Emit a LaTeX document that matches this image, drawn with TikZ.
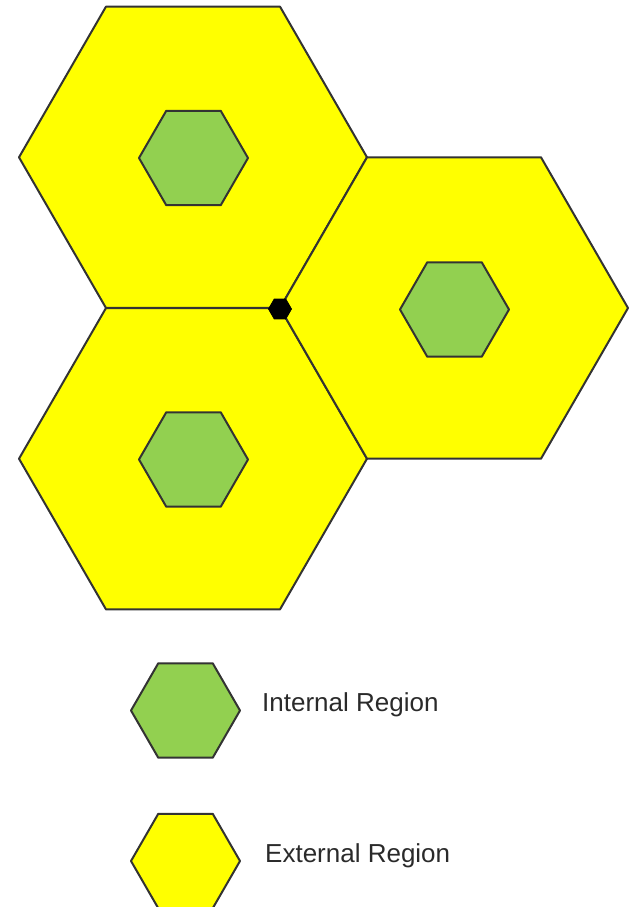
\documentclass[tikz,border=0pt]{standalone}
\usepackage{fontspec}
\setmainfont{Liberation Sans}
\usetikzlibrary{shapes.geometric}
\definecolor{hexyellow}{HTML}{FFFF00}
\definecolor{hexgreen}{HTML}{92D050}
\definecolor{hexline}{HTML}{333333}
\definecolor{labeltext}{HTML}{2A2A2A}
\tikzset{
  hexbase/.style={regular polygon, regular polygon sides=6, inner sep=0pt, outer sep=0pt, draw=hexline, line width=2pt, line join=round},
  bighex/.style={hexbase, fill=hexyellow, minimum size=348pt},
  smallhex/.style={hexbase, fill=hexgreen, minimum size=109pt},
  dothex/.style={regular polygon, regular polygon sides=6, inner sep=0pt, outer sep=0pt, fill=black, draw=black, line width=0.8pt, minimum size=23pt},
  legendtext/.style={anchor=base west, inner sep=0pt, text=labeltext, font=\fontsize{26pt}{30pt}\selectfont}
}
\begin{document}
\begin{tikzpicture}[x=1pt,y=-1pt]
  \useasboundingbox (0,0) rectangle (633,907);
  % large external regions
  \node[bighex] (ext1) at (193,157.3) {};
  \node[bighex] (ext2) at (193,458.7) {};
  \node[bighex] (ext3) at (454,308) {};
  % internal regions
  \node[smallhex] (int1) at (193.5,158) {};
  \node[smallhex] (int2) at (193.5,459.5) {};
  \node[smallhex] (int3) at (454.5,309.5) {};
  % junction point
  \node[dothex] (junction) at (280,309) {};
  % legend
  \node[smallhex] (leg1) at (185.5,710.5) {};
  \node[legendtext] (leg1text) at (262,711) {Internal Region};
  \node[bighex, minimum size=109pt] (leg2) at (185.5,861) {};
  \node[legendtext] (leg2text) at (265,862) {External Region};
\end{tikzpicture}
\end{document}
